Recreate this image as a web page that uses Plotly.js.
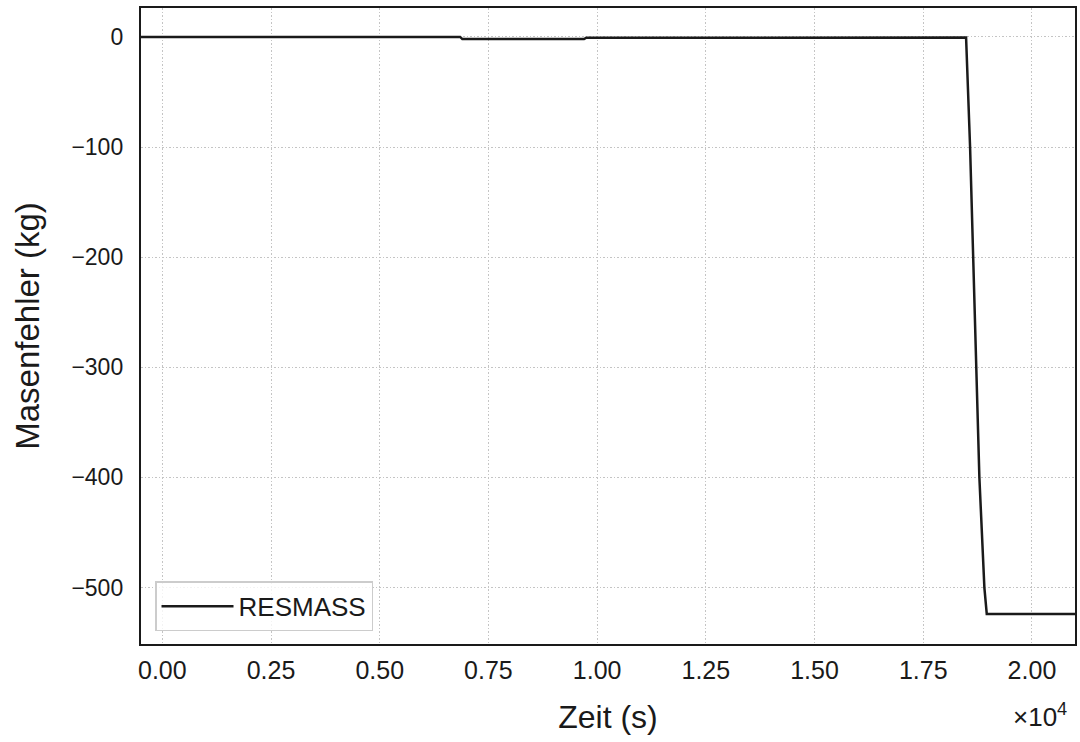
<!DOCTYPE html>
<html>
<head>
<meta charset="utf-8">
<script src="https://cdn.plot.ly/plotly-3.0.1.min.js"></script>
<style>html,body{margin:0;padding:0;background:#fff;}#chart{width:1080px;height:742px;}</style>
</head>
<body>
<div id="chart"></div>
<script>
// Data (time in s, mass error in kg)
const zeit = [-1000, 6850, 6900, 9700, 9750, 16100, 16150, 18485, 18577, 18653, 18715, 18791, 18906, 18961, 21500];
const resmass = [0, 0, -2, -2, -0.8, -0.8, -0.5, -0.6, -100, -200, -300, -400, -500, -524, -524];
const xTickVals = [0, 2500, 5000, 7500, 10000, 12500, 15000, 17500, 20000];
const xTickText = ['0.00', '0.25', '0.50', '0.75', '1.00', '1.25', '1.50', '1.75', '2.00'];
const yTickVals = [0, -100, -200, -300, -400, -500];
const seriesName = 'RESMASS';

const font = 'Liberation Sans, Arial, sans-serif';
const ink = '#1a1a1a';
const trace = {
  x: zeit, y: resmass, mode: 'lines', name: seriesName,
  line: {color: ink, width: 2.5}
};
const layout = {
  width: 1080, height: 742,
  margin: {l: 141, r: 5, t: 8, b: 98},
  paper_bgcolor: '#fff', plot_bgcolor: '#fff',
  font: {family: font, color: ink, size: 24},
  showlegend: true,
  legend: {
    x: 0.015, y: 0.02, xanchor: 'left', yanchor: 'bottom',
    bgcolor: 'rgba(255,255,255,0.8)', bordercolor: '#cccccc', borderwidth: 1.5,
    itemwidth: 72,
    font: {family: font, size: 26, color: ink}
  },
  xaxis: {
    range: [-490, 20990], tickvals: xTickVals, ticktext: xTickText,
    showline: true, mirror: true, linecolor: ink, linewidth: 2.2,
    showgrid: true, gridcolor: '#c4c4c4', gridwidth: 1, griddash: '1.5px,2px',
    zeroline: false, ticks: '', ticklabelstandoff: 3,
    tickfont: {family: font, size: 25, color: ink},
    title: {text: 'Zeit (s)', font: {family: font, size: 32, color: ink}, standoff: 22}
  },
  yaxis: {
    range: [-551.25, 26.25], tickvals: yTickVals,
    showline: true, mirror: true, linecolor: ink, linewidth: 2.2,
    showgrid: true, gridcolor: '#c4c4c4', gridwidth: 1, griddash: '1.5px,2px',
    zeroline: false, ticks: '', ticklabelstandoff: 11,
    tickfont: {family: font, size: 23, color: ink},
    title: {text: 'Masenfehler (kg)', font: {family: font, size: 33, color: ink}, standoff: 22}
  },
  annotations: [{
    xref: 'paper', yref: 'paper', x: 0.9935, y: -0.113, xanchor: 'right', yanchor: 'middle',
    text: '×10<sup>4</sup>', showarrow: false, font: {family: font, size: 26, color: ink}
  }]
};
Plotly.newPlot('chart', [trace], layout, {displayModeBar: false, staticPlot: true});
</script>
</body>
</html>
